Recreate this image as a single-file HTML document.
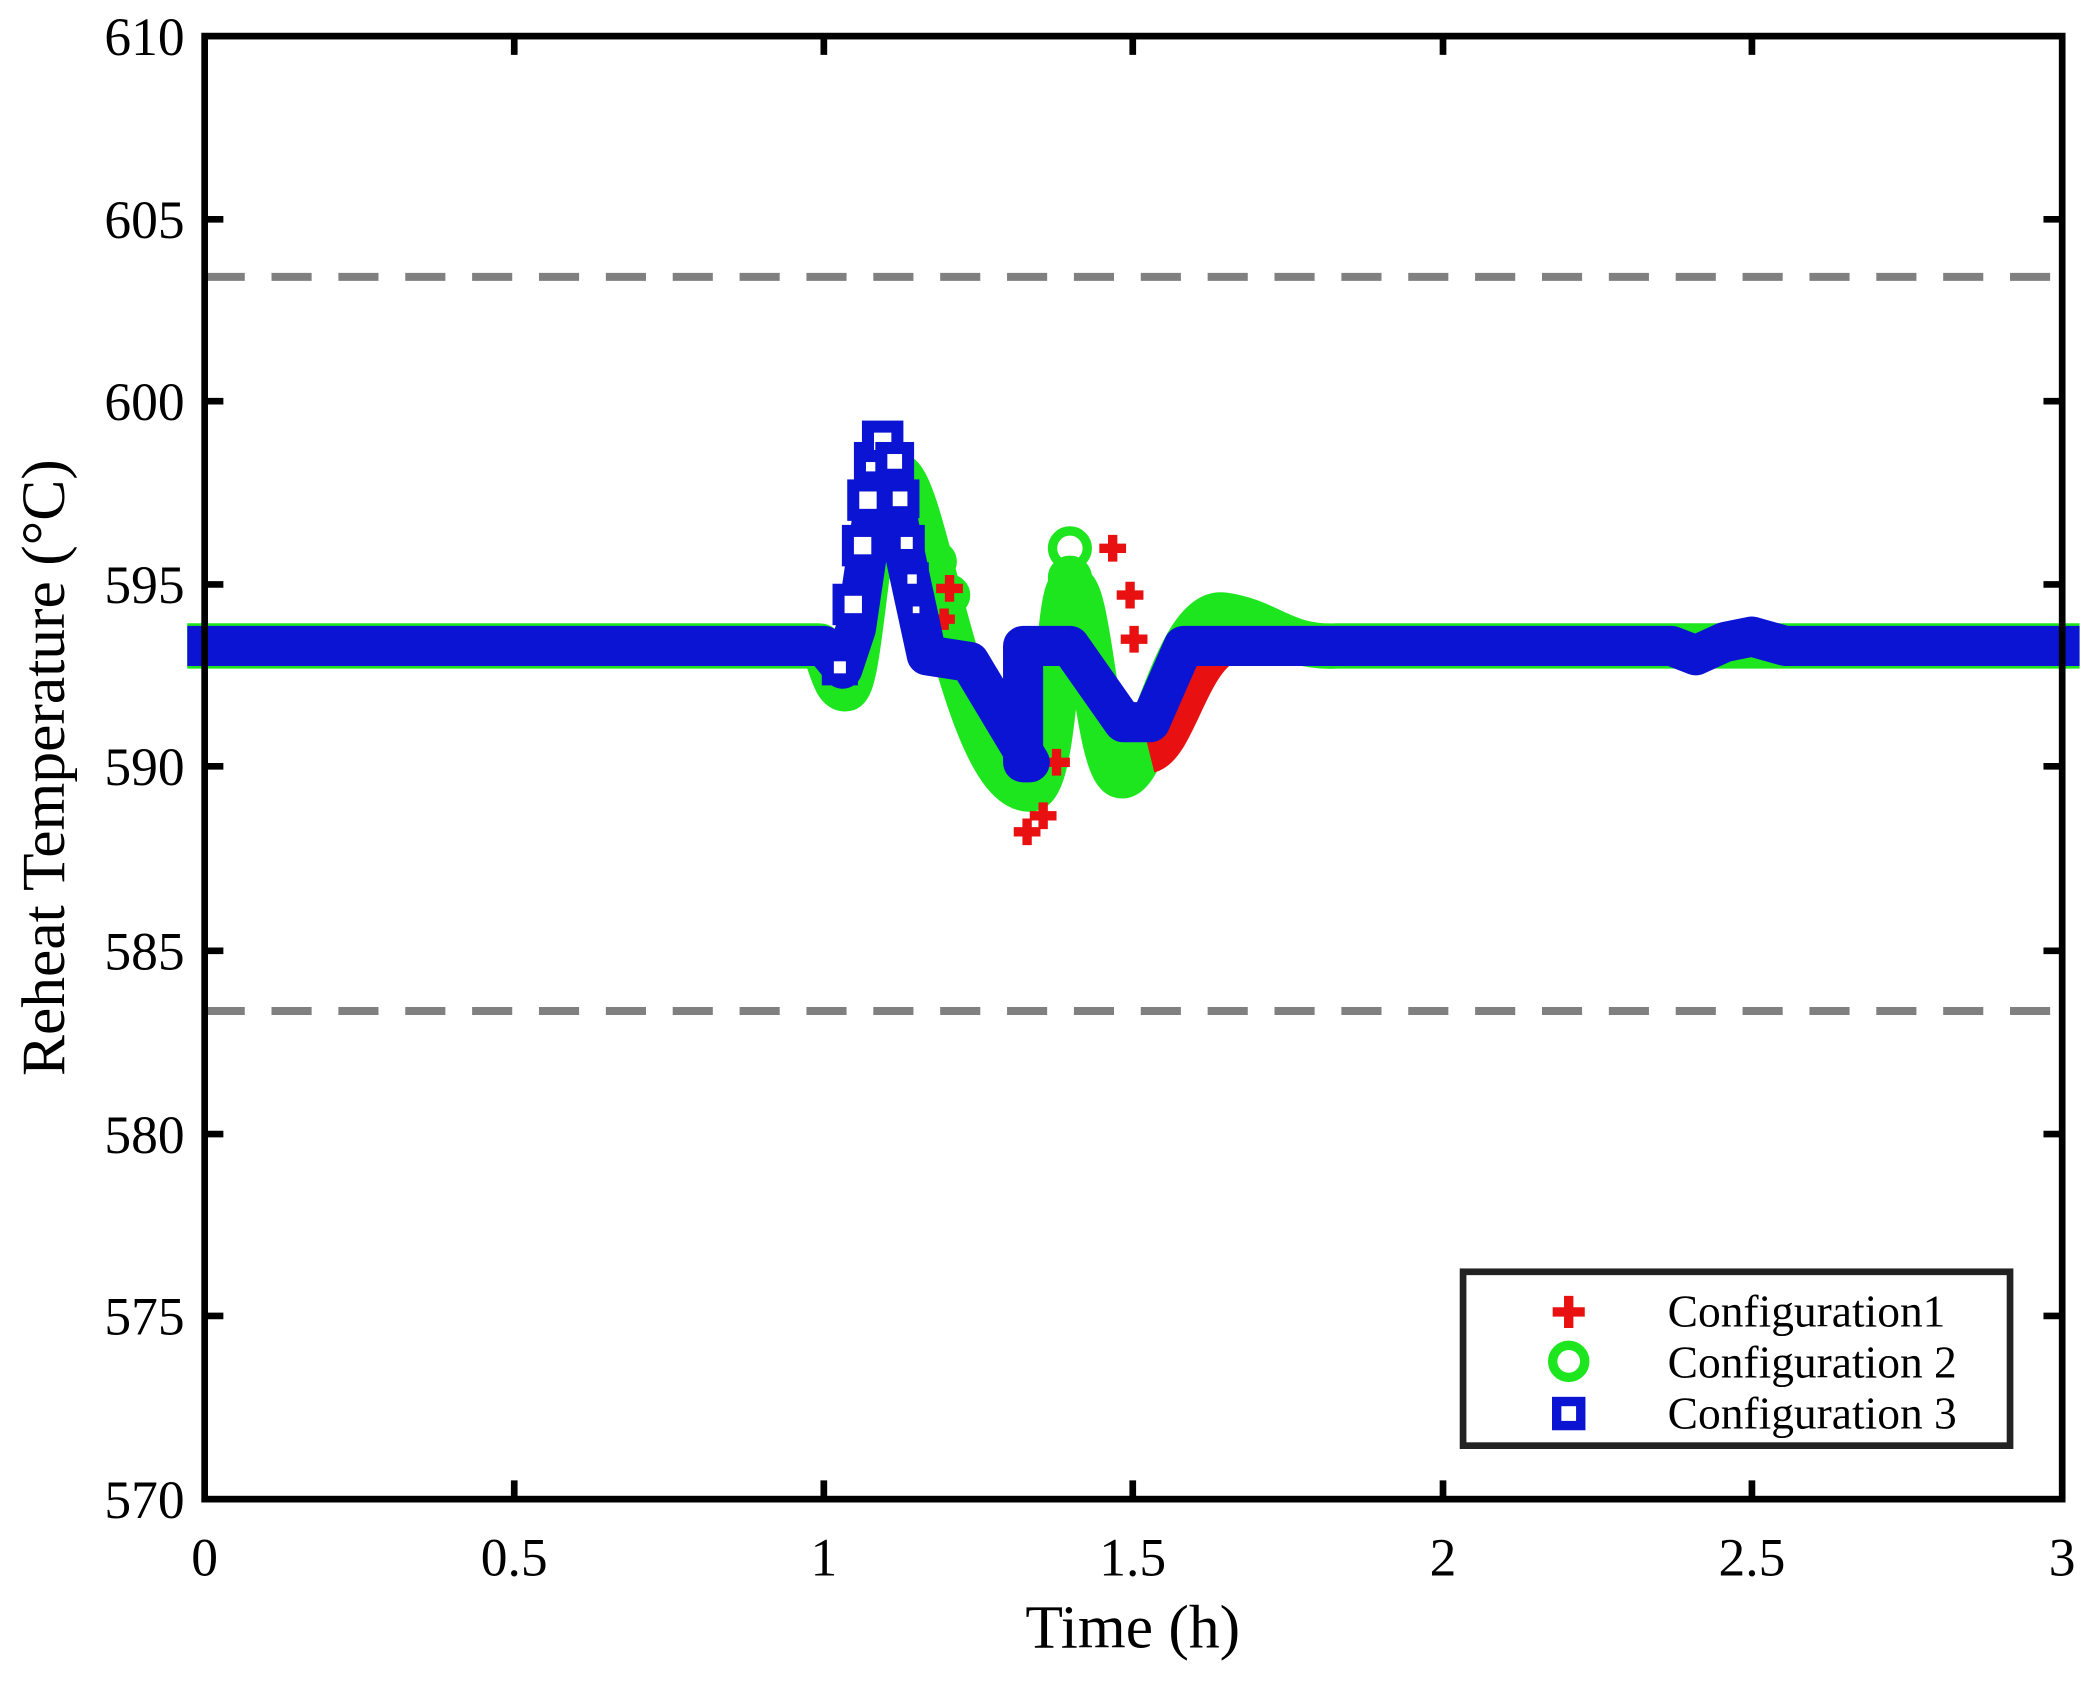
<!DOCTYPE html>
<html><head><style>html,body{margin:0;padding:0;background:#fff}</style></head>
<body>
<svg width="2097" height="1677" viewBox="0 0 1568 1254" xmlns="http://www.w3.org/2000/svg" font-family="Liberation Serif, serif">
<rect width="1568" height="1254" fill="#fff"/>
<line x1="153" y1="207" x2="1542" y2="207" stroke="#808080" stroke-width="6" stroke-dasharray="30,20"/>
<line x1="153" y1="756" x2="1542" y2="756" stroke="#808080" stroke-width="6" stroke-dasharray="30,20"/>
<!-- green -->
<path d="M140 483 L612 483 C620 483 622 515 632 515 C645 515 648 355 670 355 C692 355 720 590 770 590 C790 590 790 450 800 440 C815 430 820 585 840 580 C860 575 880 455 915 460 C950 465 960 485 1000 483 L1555 483" fill="none" stroke="#1ee61e" stroke-width="34" stroke-linejoin="round"/>
<g fill="none" stroke="#1ee61e" stroke-width="7">
<circle cx="800" cy="410" r="13"/><circle cx="800" cy="432" r="13"/><circle cx="810" cy="462" r="13"/><circle cx="780" cy="522" r="13"/><circle cx="710" cy="445" r="12"/><circle cx="700" cy="420" r="12"/>
</g>
<!-- red -->
<path d="M860 565 C880 560 890 500 915 485" fill="none" stroke="#e81010" stroke-width="26"/>
<g stroke="#e81010" stroke-width="7">
<path d="M768 612v20M758 622h20M780 600v20M770 610h20M790 560v20M780 570h20M832 400v20M822 410h20M845 435v20M835 445h20M848 468v20M838 478h20M710 430v20M700 440h20M706 455v16M698 463h16"/>
</g>
<!-- blue -->
<path d="M140 483 L616 483 L630 500 L640 470 L660 335 L680 430 L693 490 L725 495 L770 570 L765 570 L765 483 L800 483 L840 540 L860 540 L885 483 L1250 483 L1268 490 L1290 480 L1310 476 L1335 483 L1555 483" fill="none" stroke="#0a14d2" stroke-width="30" stroke-linejoin="round"/>
<g fill="#fff" stroke="#0a14d2" stroke-width="9">
<rect x="619" y="490" width="18" height="18"/><rect x="627" y="441" width="22" height="22"/><rect x="634" y="397" width="22" height="22"/><rect x="638" y="363" width="22" height="22"/><rect x="643" y="335" width="22" height="22"/><rect x="649" y="319" width="22" height="22"/>
<rect x="659" y="335" width="20" height="20"/><rect x="663" y="363" width="20" height="20"/><rect x="669" y="397" width="18" height="18"/><rect x="674" y="425" width="16" height="16"/><rect x="678" y="449" width="14" height="14"/>
</g>
<rect x="153" y="27" width="1389" height="1094" fill="none" stroke="#000" stroke-width="5"/>
<g stroke="#000" stroke-width="5">
<path d="M384.5 1121v-14M616 1121v-14M847 1121v-14M1079 1121v-14M1310 1121v-14M384.5 27v14M616 27v14M847 27v14M1079 27v14M1310 27v14"/>
<path d="M153 164h14M153 300h14M153 437h14M153 573h14M153 711h14M153 848h14M153 984h14M1542 164h-14M1542 300h-14M1542 437h-14M1542 573h-14M1542 711h-14M1542 848h-14M1542 984h-14"/>
</g>
<g font-size="40" text-anchor="end" fill="#000">
<text x="138" y="41">610</text><text x="138" y="178">605</text><text x="138" y="314">600</text><text x="138" y="451">595</text><text x="138" y="587">590</text><text x="138" y="725">585</text><text x="138" y="862">580</text><text x="138" y="998">575</text><text x="138" y="1135">570</text>
</g>
<g font-size="40" text-anchor="middle" fill="#000">
<text x="153" y="1178">0</text><text x="384.5" y="1178">0.5</text><text x="616" y="1178">1</text><text x="847" y="1178">1.5</text><text x="1079" y="1178">2</text><text x="1310" y="1178">2.5</text><text x="1542" y="1178">3</text>
</g>
<text x="847" y="1232" font-size="46" text-anchor="middle">Time (h)</text>
<text transform="translate(48 574) rotate(-90)" font-size="46" text-anchor="middle">Reheat Temperature (°C)</text>
<rect x="1094" y="951" width="409" height="130" fill="#fff" stroke="#222" stroke-width="5"/>
<path d="M1173 969v24M1161 981h24" stroke="#e81010" stroke-width="7"/>
<circle cx="1173" cy="1018" r="12" fill="none" stroke="#1ee61e" stroke-width="7"/>
<rect x="1164" y="1048" width="18" height="18" fill="#fff" stroke="#0a14d2" stroke-width="7"/>
<g font-size="34" fill="#000">
<text x="1247" y="992">Configuration1</text><text x="1247" y="1030">Configuration 2</text><text x="1247" y="1068">Configuration 3</text>
</g>
</svg>
</body></html>
